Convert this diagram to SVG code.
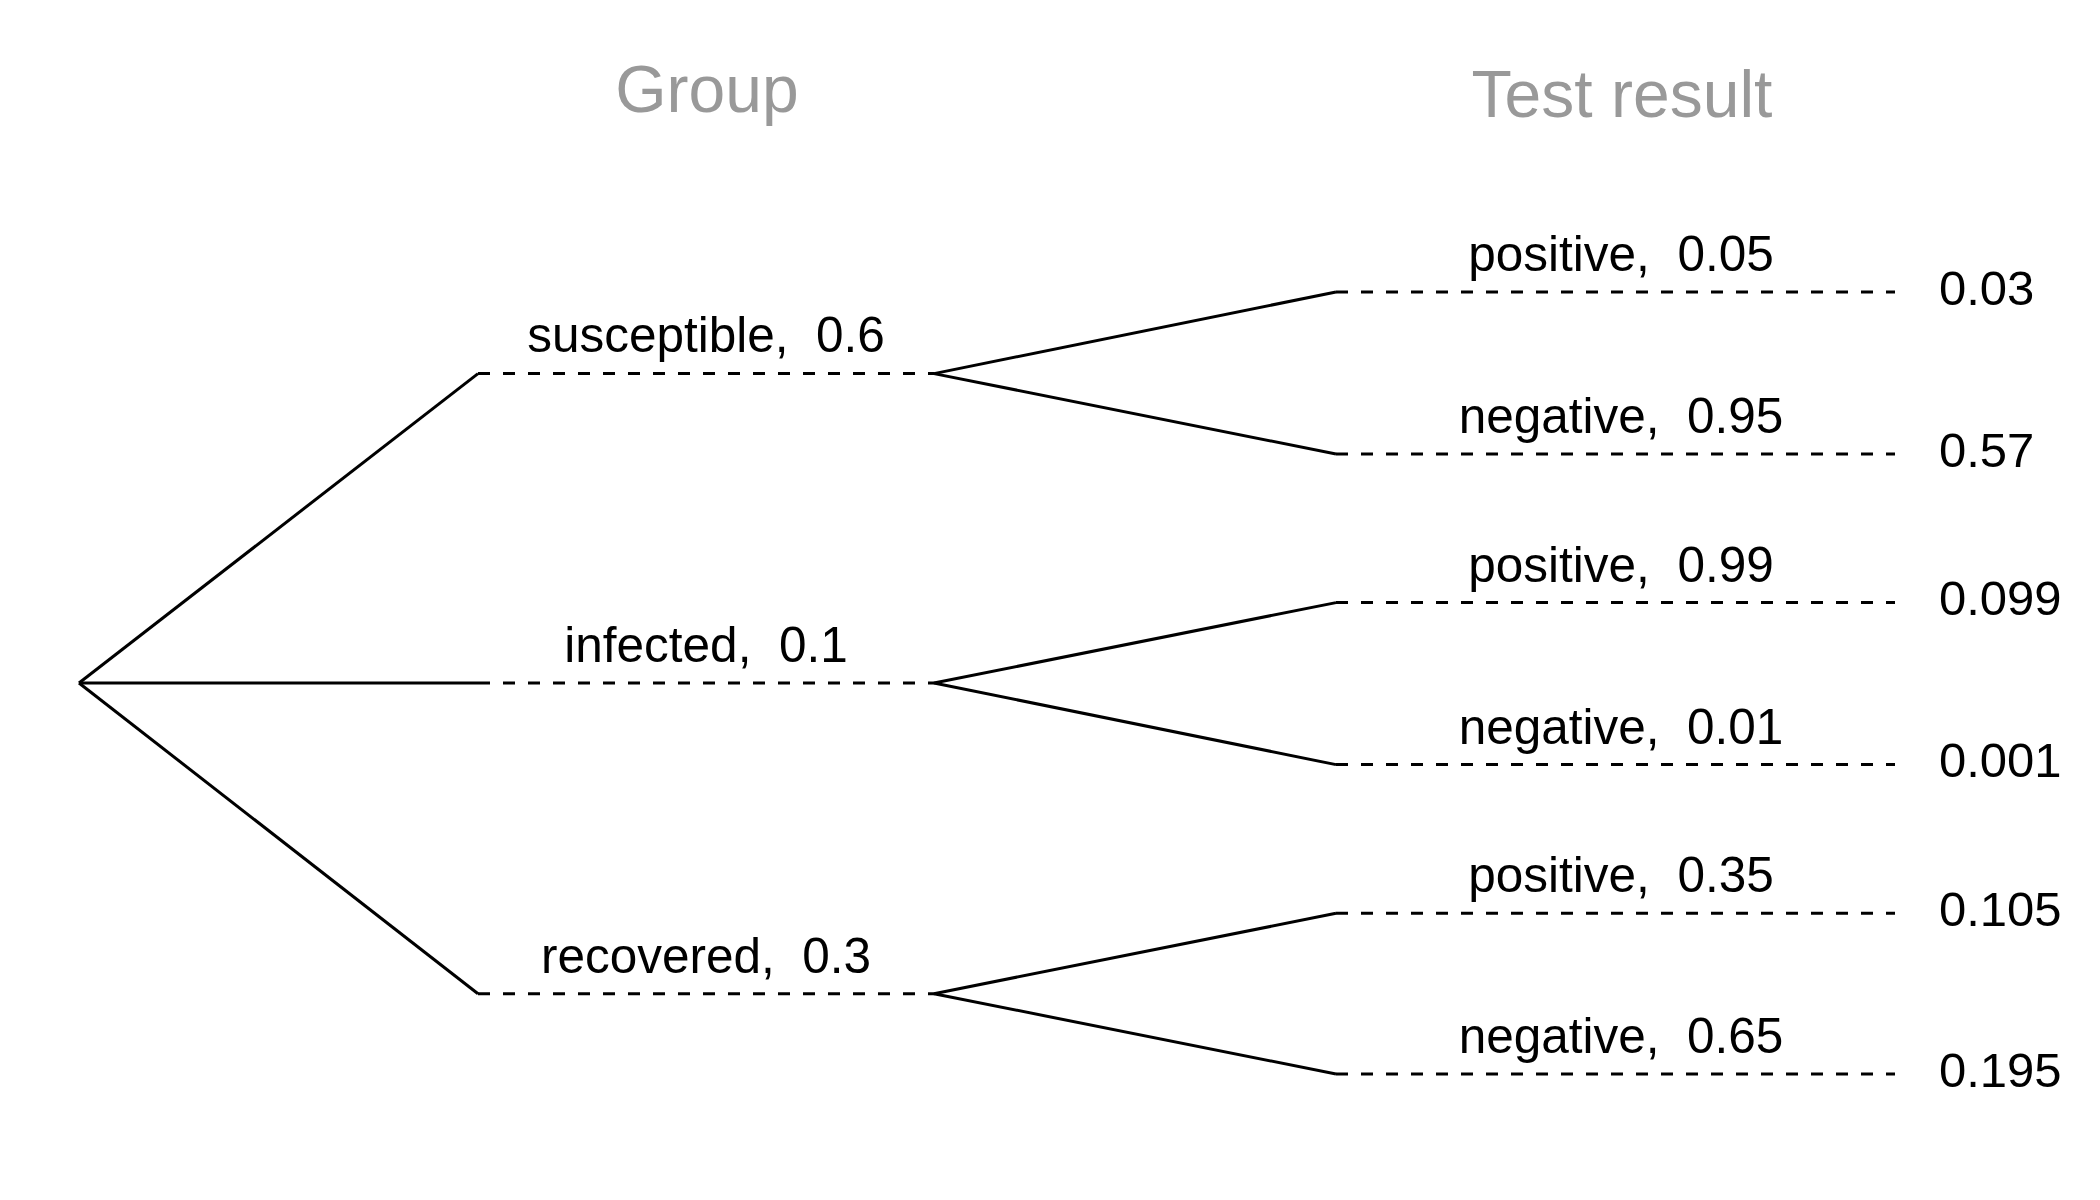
<svg xmlns="http://www.w3.org/2000/svg" width="2100" height="1200" viewBox="0 0 2100 1200">
<style>
.solid{stroke:#000;stroke-width:3;fill:none;stroke-linecap:butt}
.dash{stroke:#000;stroke-width:3;fill:none;stroke-dasharray:12 13}
.lbl{font-family:"Liberation Sans",Arial,sans-serif;font-size:49.5px;fill:#000;text-anchor:middle}
.prob{font-family:"Liberation Sans",Arial,sans-serif;font-size:49px;fill:#000}
.title{font-family:"Liberation Sans",Arial,sans-serif;font-size:66px;fill:#999;text-anchor:middle}
</style>
<rect width="2100" height="1200" fill="#fff"/>
<g id="titles">
<text class="title" x="707" y="112">Group</text>
<text class="title" x="1622" y="117">Test result</text>
</g>
<g id="connectors">
<line class="solid" x1="79" y1="683" x2="478" y2="373.6"/>
<line class="solid" x1="79" y1="683" x2="478" y2="683"/>
<line class="solid" x1="79" y1="683" x2="478" y2="993.7"/>
<line class="dash" x1="478" y1="373.6" x2="934" y2="373.6"/>
<line class="dash" x1="478" y1="683" x2="934" y2="683"/>
<line class="dash" x1="478" y1="993.7" x2="934" y2="993.7"/>
<line class="solid" x1="934" y1="373.6" x2="1336" y2="292"/>
<line class="solid" x1="934" y1="373.6" x2="1336" y2="454"/>
<line class="solid" x1="934" y1="683" x2="1336" y2="602.6"/>
<line class="solid" x1="934" y1="683" x2="1336" y2="764.6"/>
<line class="solid" x1="934" y1="993.7" x2="1336" y2="913.3"/>
<line class="solid" x1="934" y1="993.7" x2="1336" y2="1074"/>
<line class="dash" x1="1336" y1="292" x2="1895" y2="292"/>
<line class="dash" x1="1336" y1="454" x2="1895" y2="454"/>
<line class="dash" x1="1336" y1="602.6" x2="1895" y2="602.6"/>
<line class="dash" x1="1336" y1="764.6" x2="1895" y2="764.6"/>
<line class="dash" x1="1336" y1="913.3" x2="1895" y2="913.3"/>
<line class="dash" x1="1336" y1="1074" x2="1895" y2="1074"/>
</g>
<g id="node-susceptible"><text class="lbl" x="706" y="352" xml:space="preserve">susceptible,  0.6</text></g>
<g id="node-infected"><text class="lbl" x="706" y="662" xml:space="preserve">infected,  0.1</text></g>
<g id="node-recovered"><text class="lbl" x="706" y="973" xml:space="preserve">recovered,  0.3</text></g>
<g id="node-s-pos"><text class="lbl" x="1621" y="271" xml:space="preserve">positive,  0.05</text><text class="prob" x="1939" y="304.5">0.03</text></g>
<g id="node-s-neg"><text class="lbl" x="1621" y="433" xml:space="preserve">negative,  0.95</text><text class="prob" x="1939" y="466.5">0.57</text></g>
<g id="node-i-pos"><text class="lbl" x="1621" y="581.6" xml:space="preserve">positive,  0.99</text><text class="prob" x="1939" y="615">0.099</text></g>
<g id="node-i-neg"><text class="lbl" x="1621" y="743.6" xml:space="preserve">negative,  0.01</text><text class="prob" x="1939" y="777">0.001</text></g>
<g id="node-r-pos"><text class="lbl" x="1621" y="892.3" xml:space="preserve">positive,  0.35</text><text class="prob" x="1939" y="925.8">0.105</text></g>
<g id="node-r-neg"><text class="lbl" x="1621" y="1053" xml:space="preserve">negative,  0.65</text><text class="prob" x="1939" y="1086.5">0.195</text></g>
</svg>
